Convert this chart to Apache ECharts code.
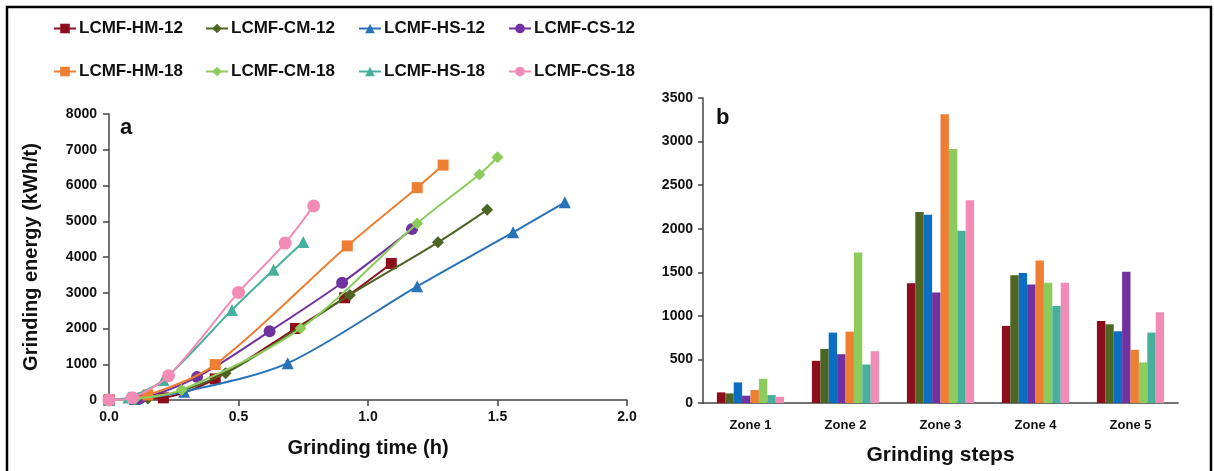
<!DOCTYPE html>
<html>
<head>
<meta charset="utf-8">
<script src="https://cdn.jsdelivr.net/npm/echarts@6/dist/echarts.min.js"></script>
<style>html,body{margin:0;padding:0;background:#fff}#c{width:1214px;height:471px}</style>
</head>
<body>
<div id="c"></div>
<script>
// ---- Data ----
const seriesNames = ['LCMF-HM-12','LCMF-CM-12','LCMF-HS-12','LCMF-CS-12','LCMF-HM-18','LCMF-CM-18','LCMF-HS-18','LCMF-CS-18'];
const hm12Time = [0, 0.21, 0.41, 0.72, 0.91, 1.09];
const hm12Energy = [0, 60, 590, 2000, 2860, 3820];
const cm12Time = [0, 0.15, 0.45, 0.93, 1.27, 1.46];
const cm12Energy = [0, 40, 750, 2940, 4410, 5320];
const hs12Time = [0, 0.1, 0.29, 0.69, 1.19, 1.56, 1.76];
const hs12Energy = [0, 30, 230, 1030, 3180, 4690, 5530];
const cs12Time = [0, 0.12, 0.34, 0.62, 0.90, 1.17];
const cs12Energy = [0, 50, 640, 1920, 3280, 4780];
const hm18Time = [0, 0.15, 0.41, 0.92, 1.19, 1.29];
const hm18Energy = [0, 140, 990, 4310, 5940, 6570];
const cm18Time = [0, 0.10, 0.28, 0.74, 1.19, 1.43, 1.50];
const cm18Energy = [0, 30, 280, 2005, 4940, 6310, 6790];
const hs18Time = [0, 0.075, 0.21, 0.475, 0.635, 0.75];
const hs18Energy = [0, 70, 560, 2520, 3640, 4420];
const cs18Time = [0, 0.09, 0.23, 0.50, 0.68, 0.79];
const cs18Energy = [0, 65, 680, 3010, 4390, 5430];

const zones = ['Zone 1','Zone 2','Zone 3','Zone 4','Zone 5'];
const hm12Zone = [122, 484, 1374, 885, 941];
const cm12Zone = [110, 621, 2192, 1467, 903];
const hs12Zone = [236, 808, 2160, 1493, 823];
const cs12Zone = [84, 560, 1267, 1360, 1505];
const hm18Zone = [149, 819, 3314, 1634, 610];
const cm18Zone = [278, 1726, 2914, 1379, 465];
const hs18Zone = [91, 442, 1977, 1112, 808];
const cs18Zone = [72, 595, 2328, 1379, 1040];

// ---- Styles ----
const colors = ['#8c0d1c','#4e6423','#2a72b8','#7032a0','#ee7e32','#8dcb5c','#47b09c','#f28cb6'];
const barColors = ['#8c0d1c','#4e6423','#0a6fc2','#7032a0','#ee7e32','#8dcb5c','#47b09c','#f28cb6'];
const symbols = ['rect','diamond','triangle','circle','rect','diamond','triangle','circle'];
const symSizes = [11,12,12,12,11,12,12,13];
const FONT = '"Liberation Sans", Arial, sans-serif';

const times = [hm12Time, cm12Time, hs12Time, cs12Time, hm18Time, cm18Time, hs18Time, cs18Time];
const energies = [hm12Energy, cm12Energy, hs12Energy, cs12Energy, hm18Energy, cm18Energy, hs18Energy, cs18Energy];
const zoneVals = [hm12Zone, cm12Zone, hs12Zone, cs12Zone, hm18Zone, cm18Zone, hs18Zone, cs18Zone];

const series = [];
seriesNames.forEach((n, i) => {
  series.push({
    name: n, type: 'line', xAxisIndex: 0, yAxisIndex: 0,
    data: times[i].map((t, k) => [t, energies[i][k]]),
    smooth: 0.3, symbol: symbols[i], symbolSize: symSizes[i],
    itemStyle: {color: colors[i]}, lineStyle: {color: colors[i], width: 2},
    z: 2 + i
  });
});
seriesNames.forEach((n, i) => {
  series.push({
    name: n, type: 'bar', xAxisIndex: 1, yAxisIndex: 1,
    data: zoneVals[i], barWidth: 8.4, barGap: '0%',
    itemStyle: {color: barColors[i]}
  });
});

const legLefts = [53, 205, 358, 508];
const legTops = [20, 63];
const legends = seriesNames.map((n, i) => ({
  data: [n],
  left: legLefts[i % 4], top: legTops[Math.floor(i / 4)],
  itemWidth: 22, itemHeight: 12, itemGap: 0,
  textStyle: {fontFamily: FONT, fontWeight: 'bold', fontSize: 17, color: '#111', padding: [0,0,0,-2]},
  selectedMode: false, padding: 0
}));

const axisLabelStyle = {fontFamily: FONT, fontWeight: 'bold', fontSize: 14, color: '#111'};

const option = {
  animation: false,
  backgroundColor: '#fff',
  legend: legends,
  grid: [
    {left: 109, right: 587, top: 114, bottom: 71},
    {left: 703, right: 36, top: 98, bottom: 66}
  ],
  xAxis: [
    {type: 'value', gridIndex: 0, min: 0, max: 2, interval: 0.5,
     axisLine: {lineStyle: {color: '#444', width: 1.5}},
     axisTick: {show: true, length: 6, lineStyle: {color: '#444', width: 1.5}},
     splitLine: {show: false},
     axisLabel: Object.assign({margin: 10, formatter: v => v.toFixed(1)}, axisLabelStyle),
     name: 'Grinding time (h)', nameLocation: 'middle', nameGap: 38,
     nameTextStyle: {fontFamily: FONT, fontWeight: 'bold', fontSize: 20, color: '#111'}},
    {type: 'category', gridIndex: 1, data: zones,
     axisLine: {lineStyle: {color: '#444', width: 1.5}},
     axisTick: {show: false},
     axisLabel: Object.assign({margin: 16}, axisLabelStyle, {fontSize: 13}),
     name: 'Grinding steps', nameLocation: 'middle', nameGap: 42,
     nameTextStyle: {fontFamily: FONT, fontWeight: 'bold', fontSize: 21, color: '#111'}}
  ],
  yAxis: [
    {type: 'value', gridIndex: 0, min: 0, max: 8000, interval: 1000,
     axisLine: {show: true, lineStyle: {color: '#444', width: 1.5}},
     axisTick: {show: true, length: 6, lineStyle: {color: '#444', width: 1.5}},
     splitLine: {show: false},
     axisLabel: Object.assign({margin: 12, formatter: v => String(v)}, axisLabelStyle),
     name: 'Grinding energy (kWh/t)', nameLocation: 'middle', nameGap: 68,
     nameTextStyle: {fontFamily: FONT, fontWeight: 'bold', fontSize: 20, color: '#111'}},
    {type: 'value', gridIndex: 1, min: 0, max: 3500, interval: 500,
     axisLine: {show: true, lineStyle: {color: '#444', width: 1.5}},
     axisTick: {show: true, length: 5, lineStyle: {color: '#444', width: 1.5}},
     splitLine: {show: false},
     axisLabel: Object.assign({margin: 10, formatter: v => String(v)}, axisLabelStyle)}
  ],
  graphic: [
    {type: 'rect', shape: {x: 7, y: 7, width: 1204, height: 490},
     style: {fill: 'none', stroke: '#000', lineWidth: 2.5}, silent: true},
    {type: 'text', left: 120, top: 117, style: {text: 'a', font: 'bold 22px ' + FONT, fill: '#111'}},
    {type: 'text', left: 716, top: 107, style: {text: 'b', font: 'bold 22px ' + FONT, fill: '#111'}}
  ],
  series: series
};
const chart = echarts.init(document.getElementById('c'), null, {renderer: 'canvas'});
chart.setOption(option);
</script>
</body>
</html>
